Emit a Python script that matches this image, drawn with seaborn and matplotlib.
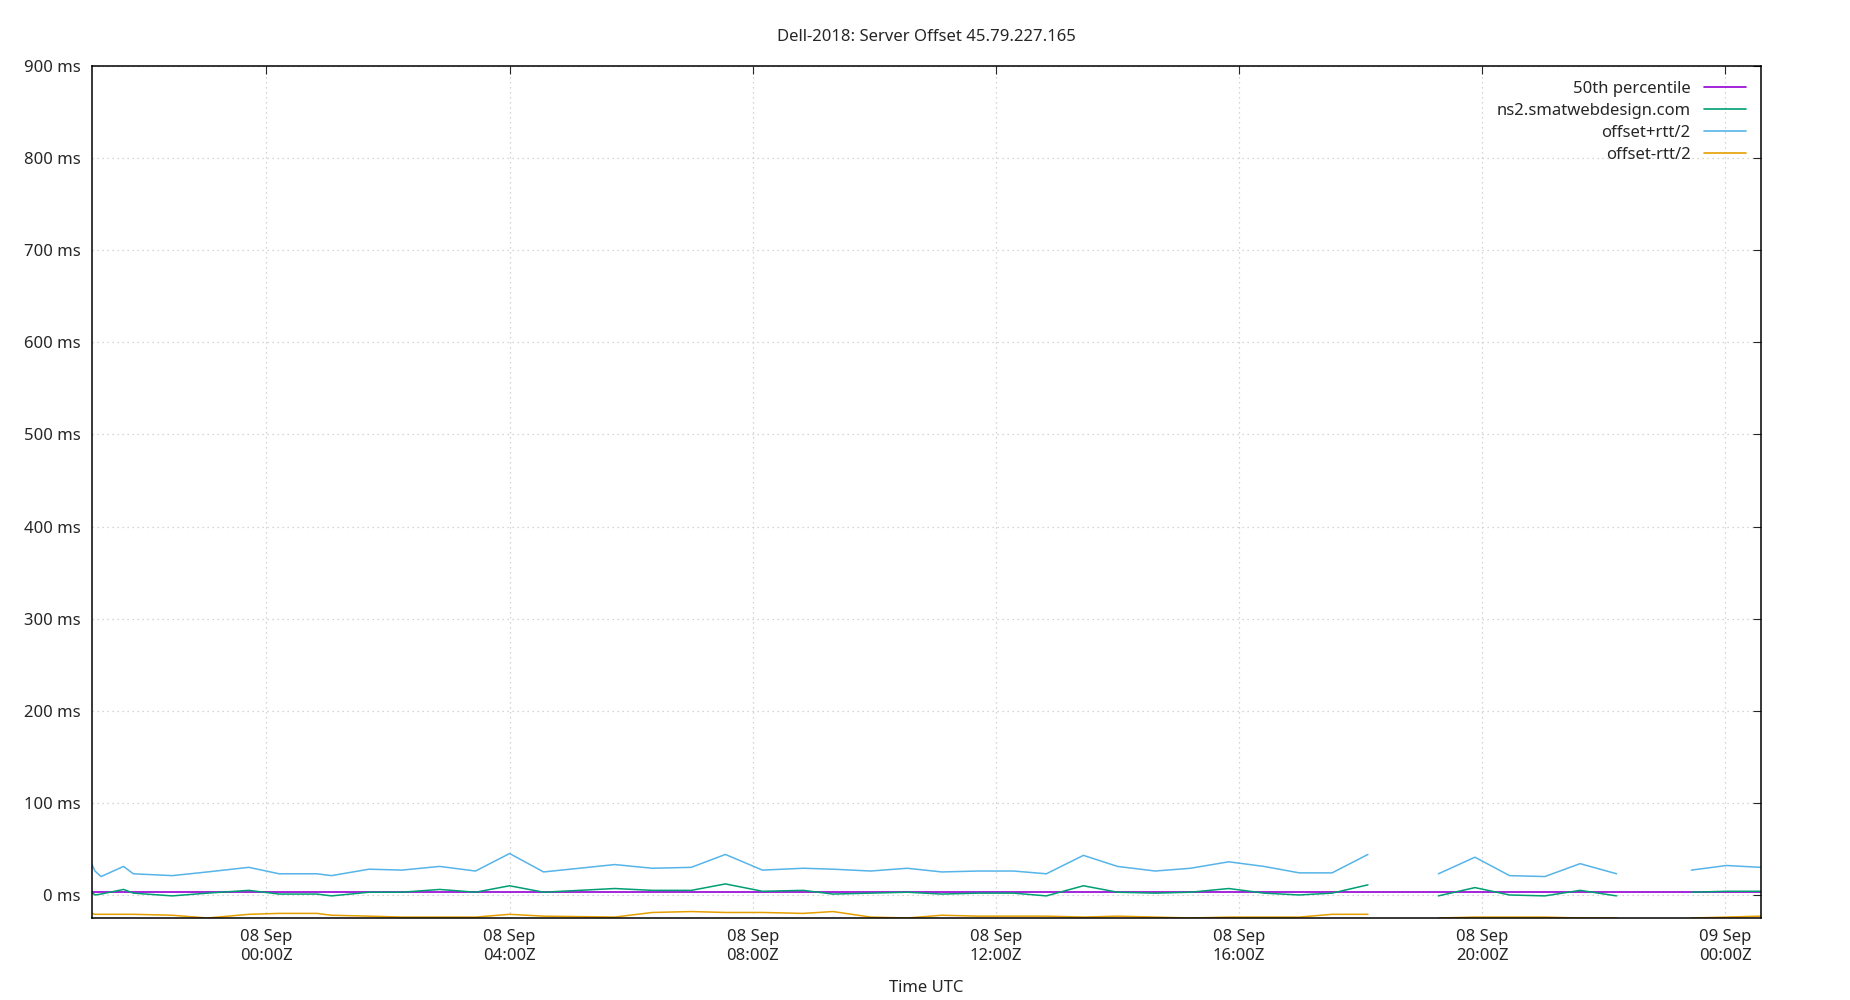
import numpy as np
import pandas as pd
import matplotlib
matplotlib.use("Agg")
import matplotlib.pyplot as plt
import matplotlib.dates as mdates
from matplotlib.lines import Line2D
import seaborn as sns

# hours relative to 2018-09-08 00:00 UTC; None marks gaps
hours = [-2.87, -2.82, -2.72, -2.35, -2.19, -1.55, -0.97, -0.29, 0.21, 0.83, 1.07, 1.69,
         2.23, 2.85, 3.44, 4.0, 4.56, 5.73, 6.35, 6.99, 7.55, 8.16, 8.83, 9.32, 9.94,
         10.54, 11.11, 11.71, 12.29, 12.83, 13.44, 14.0, 14.62, 15.2, 15.83, 16.41,
         16.99, 17.53, 18.12, None, 19.28, 19.88, 20.45, 21.03, 21.61, 22.21, None,
         23.44, 24.02, 24.58]
offset = [3, 0, 1, 6, 2, -1, 2, 5, 1, 1, -1, 3, 3, 6, 3, 10, 3, 7, 5, 5, 12, 4, 5, 1, 2,
          3, 1, 2, 2, -1, 10, 3, 2, 3, 7, 2, 0, 2, 11, None, -1, 8, 0, -1, 5, -1, None,
          3, 4, 4]
plus = [33, 26, 20, 31, 23, 21, 25, 30, 23, 23, 21, 28, 27, 31, 26, 45, 25, 33, 29, 30,
        44, 27, 29, 28, 26, 29, 25, 26, 26, 23, 43, 31, 26, 29, 36, 31, 24, 24, 44, None,
        23, 41, 21, 20, 34, 23, None, 27, 32, 30]
minus = [-20, -21, -21, -21, -21, -22, -25, -21, -20, -20, -22, -23, -24, -24, -24, -21,
         -23, -24, -19, -18, -19, -19, -20, -18, -24, -25, -22, -23, -23, -23, -24, -23,
         -24, -25, -24, -24, -24, -21, -21, None, -25, -24, -24, -24, -25, -25, None,
         -25, -24, -23]
median = 3.0

names = ["50th percentile", "ns2.smatwebdesign.com", "offset+rtt/2", "offset-rtt/2"]
colors = ["#9400d3", "#009e73", "#56b4e9", "#e69f00"]

base = pd.Timestamp("2018-09-08 00:00")
rows = []
seg = 0
for h, o, p, m in zip(hours, offset, plus, minus):
    if h is None:
        seg += 1
        continue
    t = base + pd.Timedelta(hours=h)
    rows.append((t, o, p, m, seg))
df = pd.DataFrame(rows, columns=["time", "offset", "plus", "minus", "seg"])

sns.set_style("white")
plt.rcParams["font.family"] = ["Noto Sans", "DejaVu Sans"]
fig = plt.figure(figsize=(18.5, 10), dpi=100)
ax = fig.add_axes([0.0497, 0.082, 0.902, 0.852])

xmin = base + pd.Timedelta(hours=-2.87)
xmax = base + pd.Timedelta(hours=24.58)
med = pd.DataFrame({"time": [xmin, xmax], "v": [median, median]})
sns.lineplot(data=med, x="time", y="v", ax=ax, color=colors[0], lw=1.2, legend=False)
for col, c in [("offset", colors[1]), ("plus", colors[2]), ("minus", colors[3])]:
    sns.lineplot(data=df, x="time", y=col, units="seg", estimator=None, ax=ax,
                 color=c, lw=1.1, legend=False)

ax.set_xlim(xmin, xmax)
ax.set_ylim(-25, 900)
ax.set_yticks(np.arange(0, 901, 100))
ax.set_yticklabels([f"{v} ms" for v in range(0, 901, 100)], fontsize=12)
ticks = [base + pd.Timedelta(hours=h) for h in range(0, 25, 4)]
ax.set_xticks(ticks)
ax.xaxis.set_major_formatter(mdates.DateFormatter("%d %b\n%H:%MZ"))
plt.setp(ax.get_xticklabels(), fontsize=12)
ax.tick_params(direction="in", length=6, top=True, right=True, pad=8)
ax.grid(True, color="#c8c8c8", linestyle=(0, (1, 3)), lw=0.9)
for s in ax.spines.values():
    s.set_color("black")
    s.set_linewidth(1.1)
ax.set_xlabel("Time UTC", fontsize=12, labelpad=12)
ax.set_ylabel("")
ax.set_title("Dell-2018: Server Offset 45.79.227.165", fontsize=12, pad=18)
handles = [Line2D([], [], color=c, lw=1.2) for c in colors]
leg = ax.legend(handles, names, loc="upper right", frameon=False, markerfirst=False,
                fontsize=12, handlelength=2.5, labelspacing=0.35)
for t in leg.get_texts():
    t.set_ha("right")
fig.savefig("out.png", dpi=100)
